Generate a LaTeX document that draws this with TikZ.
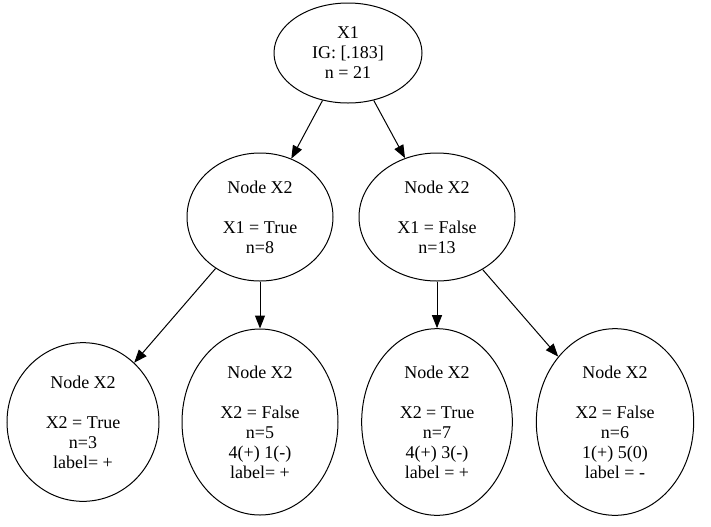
\documentclass[tikz,border=0pt]{standalone}
\usepackage{fontspec}
\setmainfont{Liberation Serif}
\usepackage{tikz}
\usetikzlibrary{arrows.meta,shapes.geometric}

\begin{document}
\begin{tikzpicture}[x=0.75pt,y=-0.75pt,
  font=\fontsize{13.5}{15}\selectfont,
  nd/.style={draw,ellipse,inner sep=0pt,align=center,line width=0.75pt},
  ar/.style={-{Triangle[length=9.75pt,width=7.5pt]},line width=0.75pt}]
  \useasboundingbox (0,0) rectangle (711,526);
  % root split
  \node[nd,minimum width=111pt,minimum height=75pt] (root) at (348,53) {X1\\IG: [.183]\\n = 21};
  % second level
  \node[nd,minimum width=109.5pt,minimum height=96pt] (xt) at (260,217) {Node X2\\[15pt]X1 = True\\n=8};
  \node[nd,minimum width=117pt,minimum height=96pt] (xf) at (437,217) {Node X2\\[15pt]X1 = False\\n=13};
  \draw[ar] (root)--(xt); \draw[ar] (root)--(xf);
  % leaves
  \node[nd,minimum width=114pt,minimum height=119pt] (tt) at (83,422) {Node X2\\[15pt]X2 = True\\n=3\\label= +};
  \node[nd,minimum width=117pt,minimum height=139.5pt] (tf) at (260,422) {Node X2\\[15pt]X2 = False\\n=5\\4(+) 1(-)\\label= +};
  \node[nd,minimum width=113pt,minimum height=140pt] (ft) at (437,422) {Node X2\\[15pt]X2 = True\\n=7\\4(+) 3(-)\\label = +};
  \node[nd,minimum width=118pt,minimum height=140pt] (ff) at (615,422) {Node X2\\[15pt]X2 = False\\n=6\\1(+) 5(0)\\label = -};
  \draw[ar] (xt)--(tt); \draw[ar] (xt)--(tf);
  \draw[ar] (xf)--(ft); \draw[ar] (xf)--(ff);
\end{tikzpicture}
\end{document}
